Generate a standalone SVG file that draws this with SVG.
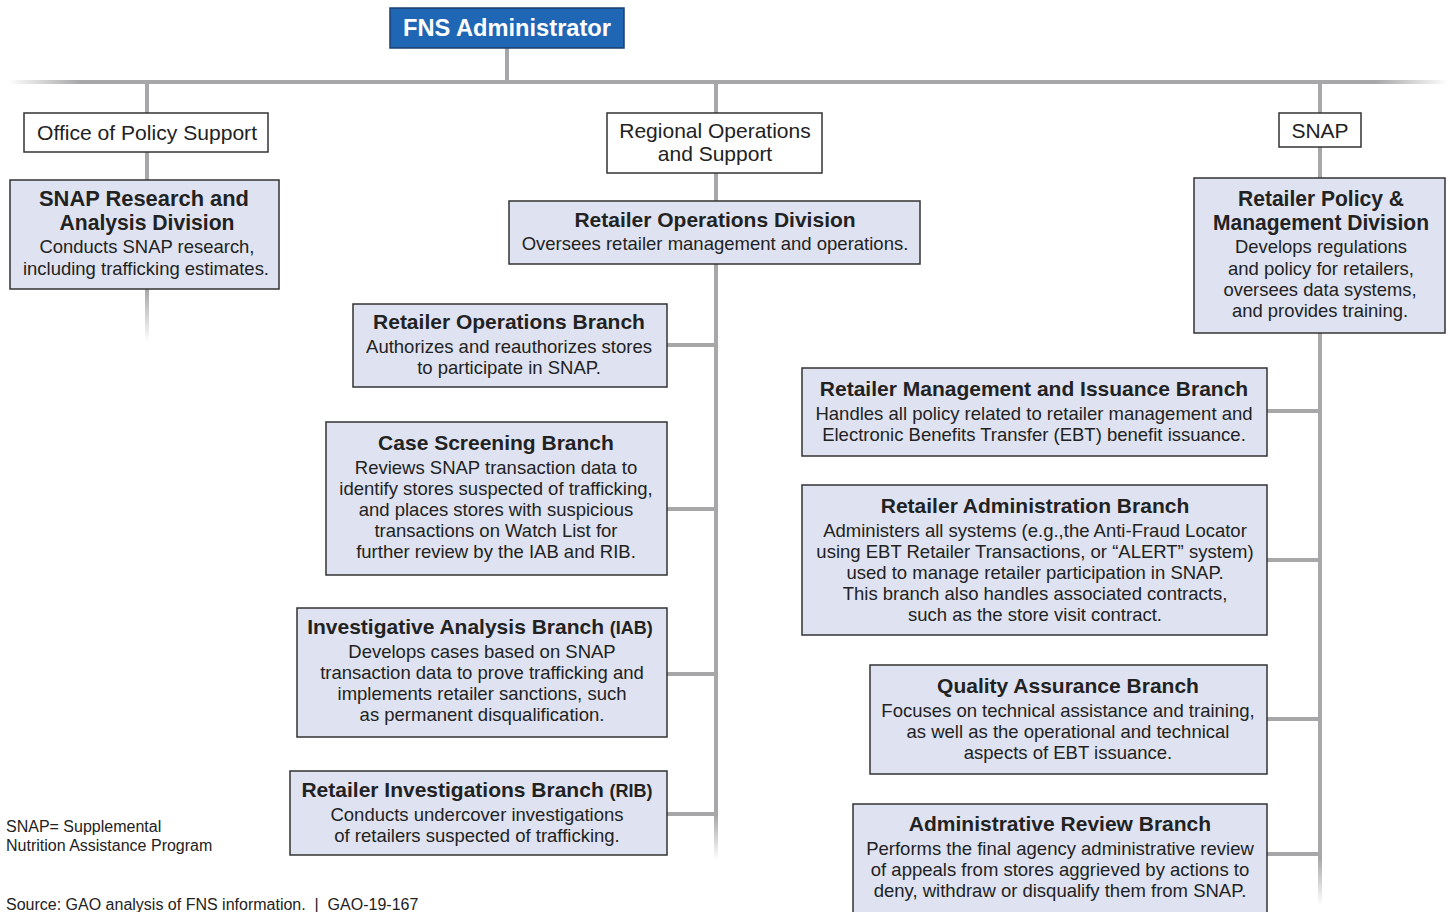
<svg xmlns="http://www.w3.org/2000/svg" width="1450" height="912" viewBox="0 0 1450 912">
<style>
.box{fill:#dfe3f1;stroke:#333;stroke-width:1.5}
.wbox{fill:#fff;stroke:#333;stroke-width:1.5}
.ln{stroke:#a7a7a9;stroke-width:4;fill:none}
text{font-family:"Liberation Sans",Arial,sans-serif;fill:#222;text-anchor:middle}
.t{font-size:21px;font-weight:bold}
.ts{font-size:18px;font-weight:bold}
.b{font-size:18.5px}
.h{font-size:21px}
.f{font-size:16px;text-anchor:start}
</style>
<defs>
<linearGradient id="gH" gradientUnits="userSpaceOnUse" x1="8" y1="0" x2="1448" y2="0">
<stop offset="0" stop-color="#a7a7a9" stop-opacity="0"/>
<stop offset="0.05" stop-color="#a7a7a9"/>
<stop offset="0.95" stop-color="#a7a7a9"/>
<stop offset="1" stop-color="#a7a7a9" stop-opacity="0"/>
</linearGradient>
<linearGradient id="gL" gradientUnits="userSpaceOnUse" x1="0" y1="289" x2="0" y2="342">
<stop offset="0" stop-color="#a7a7a9"/>
<stop offset="1" stop-color="#a7a7a9" stop-opacity="0"/>
</linearGradient>
<linearGradient id="gM" gradientUnits="userSpaceOnUse" x1="0" y1="815" x2="0" y2="860">
<stop offset="0" stop-color="#a7a7a9"/>
<stop offset="1" stop-color="#a7a7a9" stop-opacity="0"/>
</linearGradient>
<linearGradient id="gR" gradientUnits="userSpaceOnUse" x1="0" y1="858" x2="0" y2="905">
<stop offset="0" stop-color="#a7a7a9"/>
<stop offset="1" stop-color="#a7a7a9" stop-opacity="0"/>
</linearGradient>
</defs>

<g id="connectors">
<line class="ln" x1="8" y1="82" x2="1448" y2="82" style="stroke:url(#gH)"/>
<line class="ln" x1="507" y1="48" x2="507" y2="82"/>
<line class="ln" x1="147" y1="82" x2="147" y2="180"/>
<line class="ln" x1="147" y1="289" x2="147" y2="342" style="stroke:url(#gL)"/>
<line class="ln" x1="716" y1="82" x2="716" y2="201"/>
<line class="ln" x1="716" y1="264" x2="716" y2="815"/>
<line class="ln" x1="716" y1="813" x2="716" y2="860" style="stroke:url(#gM)"/>
<line class="ln" x1="667" y1="345" x2="716" y2="345"/>
<line class="ln" x1="667" y1="509" x2="716" y2="509"/>
<line class="ln" x1="667" y1="674" x2="716" y2="674"/>
<line class="ln" x1="667" y1="814" x2="716" y2="814"/>
<line class="ln" x1="1320" y1="82" x2="1320" y2="178"/>
<line class="ln" x1="1320" y1="333" x2="1320" y2="860"/>
<line class="ln" x1="1320" y1="856" x2="1320" y2="905" style="stroke:url(#gR)"/>
<line class="ln" x1="1267" y1="411" x2="1320" y2="411"/>
<line class="ln" x1="1267" y1="560" x2="1320" y2="560"/>
<line class="ln" x1="1267" y1="719" x2="1320" y2="719"/>
<line class="ln" x1="1267" y1="854" x2="1320" y2="854"/>
</g>

<g id="fns-administrator">
<rect x="390" y="8" width="234" height="40" fill="#1f66b5" stroke="#1a3f70" stroke-width="1.5"/>
<text x="507" y="36" style="font-size:23px;font-weight:bold;fill:#fff" textLength="208" lengthAdjust="spacingAndGlyphs">FNS Administrator</text>
</g>

<g id="office-policy-support">
<rect class="wbox" x="24" y="113" width="244" height="39"/>
<text class="h" x="147" y="140" textLength="220" lengthAdjust="spacingAndGlyphs">Office of Policy Support</text>
</g>

<g id="snap-research">
<rect class="box" x="10" y="180" width="269" height="109"/>
<text class="t" x="144" y="206" style="font-size:22px" textLength="210" lengthAdjust="spacingAndGlyphs">SNAP Research and</text>
<text class="t" x="147" y="230" style="font-size:22px" textLength="175" lengthAdjust="spacingAndGlyphs">Analysis Division</text>
<text class="b" x="147" y="253" textLength="215" lengthAdjust="spacingAndGlyphs">Conducts SNAP research,</text>
<text class="b" x="146" y="275" textLength="246" lengthAdjust="spacingAndGlyphs">including trafficking estimates.</text>
</g>

<g id="regional-operations">
<rect class="wbox" x="607" y="113" width="215" height="60"/>
<text class="h" x="715" y="138">Regional Operations</text>
<text class="h" x="715" y="161">and Support</text>
</g>

<g id="retailer-operations-division">
<rect class="box" x="509" y="201" width="411" height="63"/>
<text class="t" x="715" y="227">Retailer Operations Division</text>
<text class="b" x="715" y="250">Oversees retailer management and operations.</text>
</g>

<g id="retailer-operations-branch">
<rect class="box" x="353" y="304" width="314" height="83"/>
<text class="t" x="509" y="329">Retailer Operations Branch</text>
<text class="b" x="509" y="353">Authorizes and reauthorizes stores</text>
<text class="b" x="509" y="374">to participate in SNAP.</text>
</g>

<g id="case-screening-branch">
<rect class="box" x="326" y="422" width="341" height="153"/>
<text class="t" x="496" y="450">Case Screening Branch</text>
<text class="b" x="496" y="474">Reviews SNAP transaction data to</text>
<text class="b" x="496" y="495">identify stores suspected of trafficking,</text>
<text class="b" x="496" y="516">and places stores with suspicious</text>
<text class="b" x="496" y="537">transactions on Watch List for</text>
<text class="b" x="496" y="558">further review by the IAB and RIB.</text>
</g>

<g id="investigative-analysis-branch">
<rect class="box" x="297" y="608" width="370" height="129"/>
<text class="t" x="480" y="634">Investigative Analysis Branch <tspan class="ts">(IAB)</tspan></text>
<text class="b" x="482" y="658">Develops cases based on SNAP</text>
<text class="b" x="482" y="679">transaction data to prove trafficking and</text>
<text class="b" x="482" y="700">implements retailer sanctions, such</text>
<text class="b" x="482" y="721">as permanent disqualification.</text>
</g>

<g id="retailer-investigations-branch">
<rect class="box" x="290" y="771" width="377" height="84"/>
<text class="t" x="477" y="797">Retailer Investigations Branch <tspan class="ts">(RIB)</tspan></text>
<text class="b" x="477" y="821">Conducts undercover investigations</text>
<text class="b" x="477" y="842">of retailers suspected of trafficking.</text>
</g>

<g id="snap">
<rect class="wbox" x="1279" y="113" width="82" height="34"/>
<text class="h" x="1320" y="138">SNAP</text>
</g>

<g id="retailer-policy-division">
<rect class="box" x="1194" y="178" width="251" height="155"/>
<text class="t" x="1321" y="206" style="font-size:22px" textLength="166" lengthAdjust="spacingAndGlyphs">Retailer Policy &amp;</text>
<text class="t" x="1321" y="230" style="font-size:22px" textLength="216" lengthAdjust="spacingAndGlyphs">Management Division</text>
<text class="b" x="1321" y="253" textLength="172" lengthAdjust="spacingAndGlyphs">Develops regulations</text>
<text class="b" x="1321" y="275" textLength="186" lengthAdjust="spacingAndGlyphs">and policy for retailers,</text>
<text class="b" x="1320" y="296" textLength="193" lengthAdjust="spacingAndGlyphs">oversees data systems,</text>
<text class="b" x="1320" y="317" textLength="176" lengthAdjust="spacingAndGlyphs">and provides training.</text>
</g>

<g id="retailer-management-issuance-branch">
<rect class="box" x="802" y="368" width="465" height="88"/>
<text class="t" x="1034" y="396">Retailer Management and Issuance Branch</text>
<text class="b" x="1034" y="420">Handles all policy related to retailer management and</text>
<text class="b" x="1034" y="441">Electronic Benefits Transfer (EBT) benefit issuance.</text>
</g>

<g id="retailer-administration-branch">
<rect class="box" x="802" y="485" width="465" height="150"/>
<text class="t" x="1035" y="513">Retailer Administration Branch</text>
<text class="b" x="1035" y="537">Administers all systems (e.g.,the Anti-Fraud Locator</text>
<text class="b" x="1035" y="558">using EBT Retailer Transactions, or “ALERT” system)</text>
<text class="b" x="1035" y="579">used to manage retailer participation in SNAP.</text>
<text class="b" x="1035" y="600">This branch also handles associated contracts,</text>
<text class="b" x="1035" y="621">such as the store visit contract.</text>
</g>

<g id="quality-assurance-branch">
<rect class="box" x="870" y="665" width="397" height="109"/>
<text class="t" x="1068" y="693">Quality Assurance Branch</text>
<text class="b" x="1068" y="717">Focuses on technical assistance and training,</text>
<text class="b" x="1068" y="738">as well as the operational and technical</text>
<text class="b" x="1068" y="759">aspects of EBT issuance.</text>
</g>

<g id="administrative-review-branch">
<rect class="box" x="853" y="804" width="414" height="120"/>
<text class="t" x="1060" y="831">Administrative Review Branch</text>
<text class="b" x="1060" y="855">Performs the final agency administrative review</text>
<text class="b" x="1060" y="876">of appeals from stores aggrieved by actions to</text>
<text class="b" x="1060" y="897">deny, withdraw or disqualify them from SNAP.</text>
</g>

<g id="notes">
<text class="f" x="6" y="832">SNAP= Supplemental</text>
<text class="f" x="6" y="851">Nutrition Assistance Program</text>
<text class="f" x="6" y="910">Source: GAO analysis of FNS information.&#160; |&#160; GAO-19-167</text>
</g>
</svg>
